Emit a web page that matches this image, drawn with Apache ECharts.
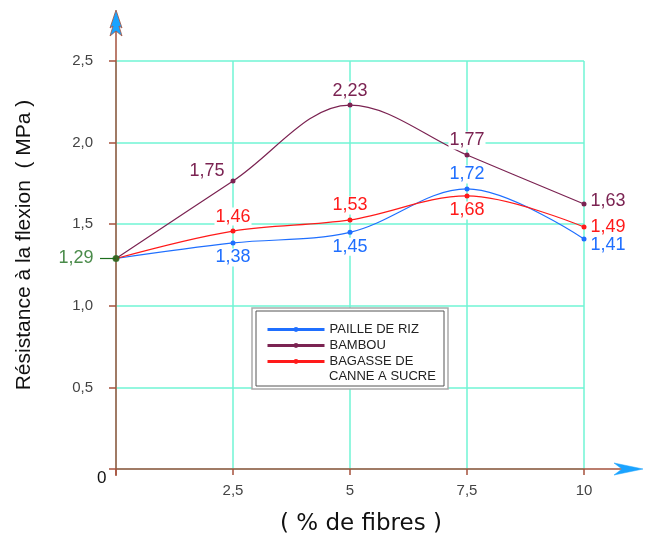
<!DOCTYPE html>
<html><head><meta charset="utf-8">
<script src="https://cdn.jsdelivr.net/npm/echarts@6/dist/echarts.min.js"></script>
<style>html,body{margin:0;padding:0;background:#fff}#c{width:654px;height:540px}</style>
</head><body><div id="c"></div>
<script>
var fibres = [0, 2.5, 5, 7.5, 10];
var xTickLabels = {'2.5':'2,5','5':'5','7.5':'7,5','10':'10'};
var yTickLabels = {'0.5':'0,5','1':'1,0','1.5':'1,5','2':'2,0','2.5':'2,5'};
var seriesNames = ['PAILLE DE RIZ', 'BAMBOU', 'BAGASSE DE CANNE A SUCRE'];
var pailleValues = [1.29, 1.385, 1.45, 1.716, 1.41];
var pailleLabels = ['', '1,38', '1,45', '1,72', '1,41'];
var bambouValues = [1.29, 1.765, 2.23, 1.924, 1.624];
var bambouLabels = ['', '1,75', '2,23', '1,77', '1,63'];
var bagasseValues = [1.29, 1.458, 1.526, 1.673, 1.483];
var bagasseLabels = ['', '1,46', '1,53', '1,68', '1,49'];
var startValue = 1.29;
var startLabel = '1,29';

var colors = ['#1f6fff', '#7b2352', '#ff1a1a'];
var green = '#1d6e1d';
var axisColor = '#a5523c';
var gridColor = '#70f5d4';
var FONT = 'Liberation Sans, Arial, sans-serif';

function mkData(vals, labs, positions, offsets){
  return fibres.map(function(x,i){
    var d = {value:[x, vals[i]]};
    if (labs[i]) d.label = {show:true, formatter: labs[i], position: positions[i], offset: offsets[i] || [0,0]};
    else d.label = {show:false};
    return d;
  });
}

var chart = echarts.init(document.getElementById('c'));
function series(name, vals, labs, pos, off, color){
  return {
    name:name, type:'line', smooth:0.35, data: mkData(vals, labs, pos, off),
    symbol:'circle', symbolSize:5, showSymbol:true,
    lineStyle:{color:color, width:1.2}, itemStyle:{color:color},
    label:{color:color, distance:3, fontSize:18, fontFamily:FONT, backgroundColor:'#fff', padding:[0,1]},
    emphasis:{disabled:true}, z:3
  };
}
var option = {
  animation:false,
  grid:{left:116, right:70, top:61, bottom:71, containLabel:false},
  xAxis:{type:'value', min:0, max:10, interval:2.5,
    axisLine:{show:false},
    axisTick:{show:true, length:6, inside:false, lineStyle:{color:axisColor, width:1.5}},
    axisLabel:{formatter:function(v){return xTickLabels[String(v)]||'';}, color:'#444', fontSize:15, fontFamily:FONT, margin:14},
    splitLine:{show:true, lineStyle:{color:gridColor, width:1.5}}
  },
  yAxis:{type:'value', min:0, max:2.5, interval:0.5,
    axisLine:{show:false},
    axisTick:{show:true, length:7, lineStyle:{color:axisColor, width:1.5}},
    axisLabel:{formatter:function(v){return yTickLabels[String(v)]||'';}, color:'#444', fontSize:15, fontFamily:FONT, margin:23},
    splitLine:{show:true, lineStyle:{color:gridColor, width:1.5}}
  },
  legend:{
    left:261, top:318, orient:'vertical', itemWidth:57, itemHeight:6, itemGap:3,
    data: seriesNames.map(function(n){return {name:n};}),
    formatter:function(n){ return n === seriesNames[2] ? 'BAGASSE DE' : n; },
    lineStyle:{width:3},
    textStyle:{fontSize:13, color:'#222', fontFamily:FONT},
    selectedMode:false, z:10
  },
  graphic:[
    {type:'rect', shape:{x:252, y:308, width:196, height:81}, style:{fill:'#fff', stroke:'#aaa', lineWidth:1.5}, z:5},
    {type:'rect', shape:{x:256, y:311, width:188, height:75}, style:{fill:'#fff', stroke:'#555', lineWidth:1}, z:5},
    {type:'text', x:329, y:376, style:{text:'CANNE A SUCRE', fontSize:13, fill:'#222', fontFamily:FONT, verticalAlign:'middle'}, z:11},
    {type:'line', shape:{x1:116, y1:476, x2:116, y2:20}, style:{stroke:axisColor, lineWidth:1.5}, z:4},
    {type:'line', shape:{x1:116, y1:469, x2:630, y2:469}, style:{stroke:axisColor, lineWidth:1.5}, z:4},
    {type:'polygon', shape:{points:[[116,10],[122,28],[119,26],[122,36],[116,31],[110,36],[113,26],[110,28]]}, style:{fill:'#1aa3ff', stroke:axisColor, lineWidth:0.8}, z:6},
    {type:'polygon', shape:{points:[[643,469],[614,463],[622,469],[614,475]]}, style:{fill:'#1aa3ff', stroke:'#1aa3ff', lineWidth:0.5}, z:6},
    {type:'text', x:97, y:470, style:{text:'0', fontSize:17, fill:'#111', fontFamily:FONT}, z:6},
    {type:'text', x:24, y:245, rotation:Math.PI/2,
      style:{text:'Résistance à la flexion  ( MPa )', fontSize:21, fill:'#111', fontFamily:FONT, align:'center', verticalAlign:'middle'}, z:6},
    {type:'text', x:361, y:524, style:{text:'( % de fibres )', fontSize:23, fill:'#111', fontFamily:'DejaVu Sans, sans-serif', align:'center', verticalAlign:'middle'}, z:6}
  ],
  series:[
    series(seriesNames[0], pailleValues, pailleLabels, ['bottom','bottom','bottom','top','right'], [null,[0,0],[0,0],[0,0],[0,6]], colors[0]),
    series(seriesNames[1], bambouValues, bambouLabels, ['top','left','top','top','right'], [null,[-2,-10],[0,0],[0,0],[0,-3]], colors[1]),
    series(seriesNames[2], bagasseValues, bagasseLabels, ['top','top','top','bottom','right'], [null,[0,0],[0,0],[0,0],[0,0]], colors[2]),
    {name:'start', type:'scatter', data:[[0,startValue]], symbol:'circle', symbolSize:7,
      itemStyle:{color:green}, z:5, emphasis:{disabled:true},
      label:{show:true, position:'left', distance:19, formatter:startLabel, color:green, fontSize:18, fontFamily:FONT},
      markLine:{silent:true, symbol:'none', label:{show:false}, lineStyle:{color:green, width:1.2, type:'solid'},
        data:[[{coord:[0,startValue], x:100}, {coord:[0,startValue]}]]}
    }
  ]
};
chart.setOption(option);
</script></body></html>
